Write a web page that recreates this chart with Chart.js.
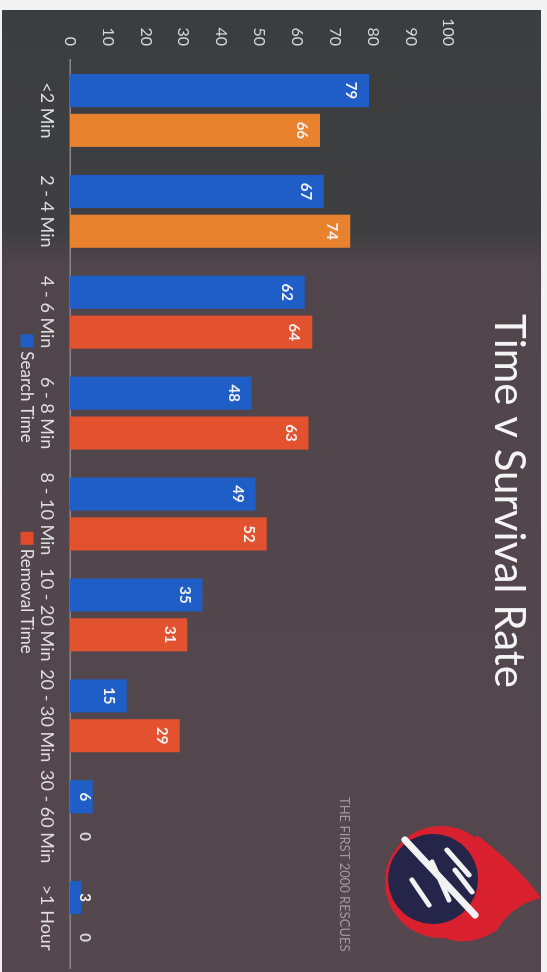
<!DOCTYPE html>
<html>
<head>
<meta charset="utf-8">
<title>Time v Survival Rate</title>
<script src="https://cdn.jsdelivr.net/npm/chart.js@4.4.1/dist/chart.umd.min.js"></script>
<style>
  html, body { margin: 0; padding: 0; background: #f4f4f4; overflow: hidden; }
  /* the slide is photographed on its side: draw landscape, then turn it clockwise */
  #wrap {
    position: absolute; left: 0; top: 0;
    width: 972px; height: 547px;
    transform-origin: 0 0;
    transform: translate(547px, 0) rotate(90deg);
  }
</style>
</head>
<body>
<div id="wrap"><canvas id="chart" width="972" height="547"></canvas></div>
<script>
  "use strict";

  // ── Data ──────────────────────────────────────────────────────────────────
  const categories   = ['<2 Min', '2 - 4 Min', '4 - 6 Min', '6 - 8 Min', '8 - 10 Min',
                        '10 - 20 Min', '20 - 30 Min', '30 - 60 Min', '>1 Hour'];
  const searchTime   = [79, 67, 62, 48, 49, 35, 15, 6, 3];
  const removalTime  = [66, 74, 64, 63, 52, 31, 29, 0, 0];
  const seriesLabels = ['Search Time', 'Removal Time'];
  const valueTicks   = [0, 10, 20, 30, 40, 50, 60, 70, 80, 90, 100];

  // ── Styles ────────────────────────────────────────────────────────────────
  const FONT = 'Lato, "Open Sans", sans-serif';
  const BLUE = '#1f5ec7';
  const ORANGE = '#e9822f';
  const RED = '#e2522f';
  // the photo makes the first two removal bars look orange, the rest red
  const removalColors = removalTime.map((_, i) => (i < 2 ? ORANGE : RED));
  const legendColors = [BLUE, '#e04b2c'];

  // slide background (two tones from the photo lighting)
  const slideBackground = {
    id: 'slideBackground',
    afterLayout(chart) {
      // title sits a little right of the slide centre
      if (chart.titleBlock) chart.titleBlock.left += 20;
    },
    beforeDraw(chart) {
      const { ctx, width, height } = chart;
      ctx.save();
      ctx.fillStyle = '#f2f2f2';
      ctx.fillRect(0, 0, width, height);
      const g = ctx.createLinearGradient(0, 0, width, 0);
      g.addColorStop(0, '#3c3d3f');
      g.addColorStop(0.24, '#3f3f42');
      g.addColorStop(0.275, '#51454c');
      g.addColorStop(1, '#54474e');
      ctx.fillStyle = g;
      ctx.fillRect(10, 6, width - 10, height - 8);
      ctx.restore();
    }
  };

  // value labels inside the bar ends
  const barValues = {
    id: 'barValues',
    afterDatasetsDraw(chart) {
      const { ctx } = chart;
      ctx.save();
      ctx.font = 'bold 15px ' + FONT;
      ctx.textAlign = 'center';
      ctx.textBaseline = 'middle';
      chart.data.datasets.forEach((ds, di) => {
        chart.getDatasetMeta(di).data.forEach((bar, i) => {
          const y = Math.min(bar.y + 18, bar.base - 15);
          ctx.fillStyle = ds.data[i] > 0 ? '#f0f0f0' : '#d8d8dc';
          ctx.fillText(String(ds.data[i]), bar.x, y);
        });
      });
      ctx.restore();
    }
  };

  // legend, footer text and the logo
  const slideExtras = {
    id: 'slideExtras',
    afterDraw(chart) {
      const { ctx } = chart;
      ctx.save();

      // legend
      ctx.font = '17px ' + FONT;
      ctx.textBaseline = 'middle';
      ctx.textAlign = 'left';
      const box = 13, boxGap = 4, itemGap = 89, cy = 520;
      const widths = seriesLabels.map(t => ctx.measureText(t).width);
      const total = widths.reduce((s, w) => s + box + boxGap + w, 0) + itemGap;
      let x = 494 - total / 2;
      seriesLabels.forEach((t, i) => {
        ctx.fillStyle = legendColors[i];
        ctx.fillRect(x, cy - box / 2, box, box);
        ctx.fillStyle = '#e2e2e2';
        ctx.fillText(t, x + box + boxGap, cy + 1);
        x += box + boxGap + widths[i] + itemGap;
      });

      // footer text
      ctx.font = '13px ' + FONT;
      ctx.fillStyle = '#a09a9e';
      ctx.fillText('THE FIRST 2000 RESCUES', 797, 203);

      // logo (rough)
      const lx = 882, ly = 106;
      ctx.fillStyle = '#d8202f';
      ctx.beginPath();
      ctx.moveTo(835, 70);
      ctx.quadraticCurveTo(870, 25, 898, 6);
      ctx.quadraticCurveTo(905, 35, 930, 50);
      ctx.quadraticCurveTo(950, 80, 935, 110);
      ctx.closePath();
      ctx.fill();
      ctx.beginPath();
      ctx.arc(lx, ly, 56, 0, Math.PI * 2);
      ctx.fill();
      ctx.fillStyle = '#25254a';
      ctx.beginPath();
      ctx.arc(lx - 3, ly + 8, 45, 0, Math.PI * 2);
      ctx.fill();
      ctx.strokeStyle = '#f2f2f2';
      ctx.lineCap = 'round';
      ctx.lineWidth = 7;
      ctx.beginPath();
      ctx.moveTo(840, 142); ctx.lineTo(915, 72);
      ctx.stroke();
      ctx.lineWidth = 5;
      [[850, 100, 875, 78], [862, 115, 900, 98], [880, 135, 905, 118], [870, 92, 892, 75]]
        .forEach(([a, b, c, d]) => { ctx.beginPath(); ctx.moveTo(a, b); ctx.lineTo(c, d); ctx.stroke(); });
      ctx.restore();
    }
  };

  // ── Chart ─────────────────────────────────────────────────────────────────
  new Chart(document.getElementById('chart'), {
    type: 'bar',
    data: {
      labels: categories,
      datasets: [
        { label: seriesLabels[0], data: searchTime, backgroundColor: BLUE },
        { label: seriesLabels[1], data: removalTime, backgroundColor: removalColors },
      ],
    },
    options: {
      responsive: false,
      animation: false,
      devicePixelRatio: 1,
      layout: { padding: { top: 0, left: 14, right: 4, bottom: 38 } },
      datasets: { bar: { categoryPercentage: 0.79, barPercentage: 0.83 } },
      plugins: {
        legend: { display: false },
        tooltip: { enabled: false },
        title: {
          display: true,
          text: 'Time v Survival Rate',
          color: '#f4f4f4',
          font: { family: FONT, size: 42, weight: 'normal' },
          padding: { top: 13, bottom: 35 },
        },
      },
      scales: {
        x: {
          grid: { display: false, drawTicks: false },
          border: { display: true, color: '#8c878a', width: 1.5 },
          ticks: { color: '#dedede', font: { family: FONT, size: 18 }, padding: 12, maxRotation: 0, autoSkip: false },
          afterFit: (scale) => { scale.height = 32; },
        },
        y: {
          min: 0,
          max: 100,
          grid: { display: false, drawTicks: false },
          border: { display: false },
          afterBuildTicks: (scale) => { scale.ticks = valueTicks.map(v => ({ value: v })); },
          ticks: { color: '#d6d6d6', font: { family: FONT, size: 16 }, padding: 14 },
          afterFit: (scale) => { scale.width = 46; },
        },
      },
    },
    plugins: [slideBackground, barValues, slideExtras],
  });
</script>
</body>
</html>
